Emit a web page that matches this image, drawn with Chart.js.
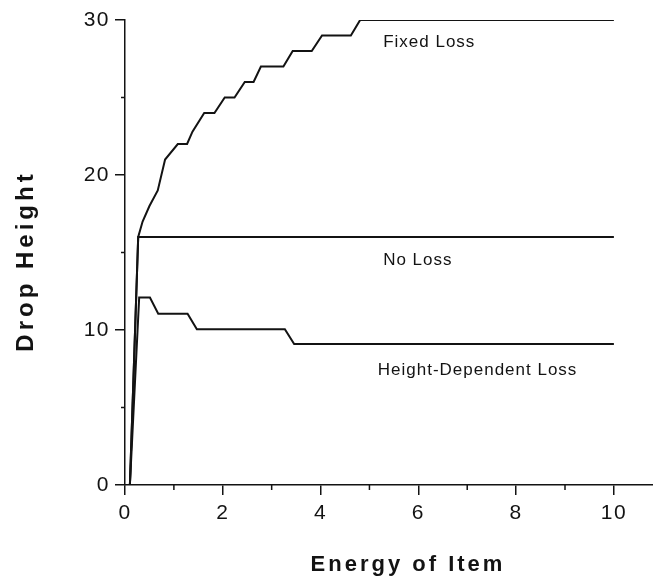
<!DOCTYPE html>
<html>
<head>
<meta charset="utf-8">
<script src="https://cdn.jsdelivr.net/npm/chart.js@4.4.1/dist/chart.umd.min.js"></script>
<style>
  html, body { margin: 0; padding: 0; background: #fff; }
  canvas { display: block; }
</style>
</head>
<body>
<canvas id="myChart" width="653" height="577"></canvas>
<script>
// data
const fixedLossX = [0.1, 0.27, 0.36, 0.5, 0.67, 0.82, 1.08, 1.27, 1.38, 1.62, 1.83, 2.04, 2.24, 2.45, 2.63, 2.78, 3.24, 3.43, 3.82, 4.03, 4.62, 4.81, 10];
const fixedLossY = [0, 16, 17, 18, 19, 21, 22, 22, 22.8, 24, 24, 25, 25, 26, 26, 27, 27, 28, 28, 29, 29, 30, 30];
const noLossX = [0.1, 0.27, 10];
const noLossY = [0, 16, 16];
const heightLossX = [0.1, 0.29, 0.51, 0.68, 1.28, 1.47, 3.27, 3.46, 10];
const heightLossY = [0, 12.1, 12.1, 11.05, 11.05, 10.05, 10.05, 9.1, 9.1];

const seriesNames = ['Fixed Loss', 'No Loss', 'Height-Dependent Loss'];
const minorXTicks = [1, 3, 5, 7, 9];
const minorYTicks = [5, 15, 25];
const xTitle = 'Energy of Item';
const yTitle = 'Drop Height';

const ink = '#131313';
const fontFamily = '"Liberation Sans", Arial, sans-serif';

// where the curve names sit (data coords, left/baseline)
const curveLabels = [
  { text: seriesNames[0], x: 5.28, y: 28.25 },
  { text: seriesNames[1], x: 5.28, y: 14.2 },
  { text: seriesNames[2], x: 5.17, y: 7.1 }
];

const toPoints = (xs, ys) => xs.map((x, i) => ({ x: x, y: ys[i] }));

const lineStyle = {
  borderColor: ink,
  borderWidth: 2,
  pointRadius: 0,
  tension: 0,
  fill: false
};

// minor ticks, curve names and letter-spaced axis titles
const extras = {
  id: 'extras',
  beforeDraw(chart) {
    chart.ctx.letterSpacing = '1.5px';
  },
  afterDraw(chart) {
    const ctx = chart.ctx;
    const xs = chart.scales.x;
    const ys = chart.scales.y;
    const area = chart.chartArea;
    ctx.save();
    ctx.strokeStyle = ink;
    ctx.lineWidth = 1.5;
    ctx.beginPath();
    minorXTicks.forEach(v => {
      const px = xs.getPixelForValue(v);
      ctx.moveTo(px, area.bottom);
      ctx.lineTo(px, area.bottom + 5);
    });
    minorYTicks.forEach(v => {
      const py = ys.getPixelForValue(v);
      ctx.moveTo(area.left, py);
      ctx.lineTo(area.left - 4, py);
    });
    ctx.stroke();

    ctx.fillStyle = ink;
    ctx.font = '17px ' + fontFamily;
    ctx.letterSpacing = '1px';
    ctx.textAlign = 'left';
    ctx.textBaseline = 'alphabetic';
    curveLabels.forEach(l => {
      ctx.fillText(l.text, xs.getPixelForValue(l.x), ys.getPixelForValue(l.y));
    });

    ctx.font = 'bold 22px ' + fontFamily;
    ctx.letterSpacing = '3px';
    ctx.textAlign = 'center';
    ctx.fillText(xTitle, area.left + 283, area.bottom + 86);

    ctx.font = 'bold 24px ' + fontFamily;
    ctx.letterSpacing = '4px';
    ctx.translate(33, area.top + 241);
    ctx.rotate(-Math.PI / 2);
    ctx.fillText(yTitle, 0, 0);
    ctx.restore();
    ctx.letterSpacing = '0px';
  }
};

const config = {
  type: 'line',
  data: {
    datasets: [
      Object.assign({ label: seriesNames[0], data: toPoints(fixedLossX, fixedLossY) }, lineStyle),
      Object.assign({ label: seriesNames[1], data: toPoints(noLossX, noLossY) }, lineStyle),
      Object.assign({ label: seriesNames[2], data: toPoints(heightLossX, heightLossY) }, lineStyle)
    ]
  },
  options: {
    responsive: false,
    animation: false,
    layout: { padding: { top: 20, right: 0, bottom: 0, left: 0 } },
    plugins: {
      legend: { display: false },
      tooltip: { enabled: false }
    },
    scales: {
      x: {
        type: 'linear',
        min: 0,
        max: 10.8,
        afterFit: s => { s.height = 92; },
        border: { display: true, color: ink, width: 1.5 },
        grid: { drawOnChartArea: false, drawTicks: true, tickLength: 10, color: ink, lineWidth: 1.5 },
        ticks: {
          stepSize: 2,
          includeBounds: false,
          padding: 6,
          color: ink,
          font: { family: fontFamily, size: 21 }
        }
      },
      y: {
        min: 0,
        max: 30,
        afterFit: s => { s.width = 125; },
        border: { display: true, color: ink, width: 1.5 },
        grid: { drawOnChartArea: false, drawTicks: true, tickLength: 10, color: ink, lineWidth: 1.5 },
        ticks: {
          stepSize: 10,
          padding: 5,
          color: ink,
          font: { family: fontFamily, size: 21 }
        }
      }
    }
  },
  plugins: [extras]
};

const myChart = new Chart(document.getElementById('myChart'), config);
</script>
</body>
</html>
